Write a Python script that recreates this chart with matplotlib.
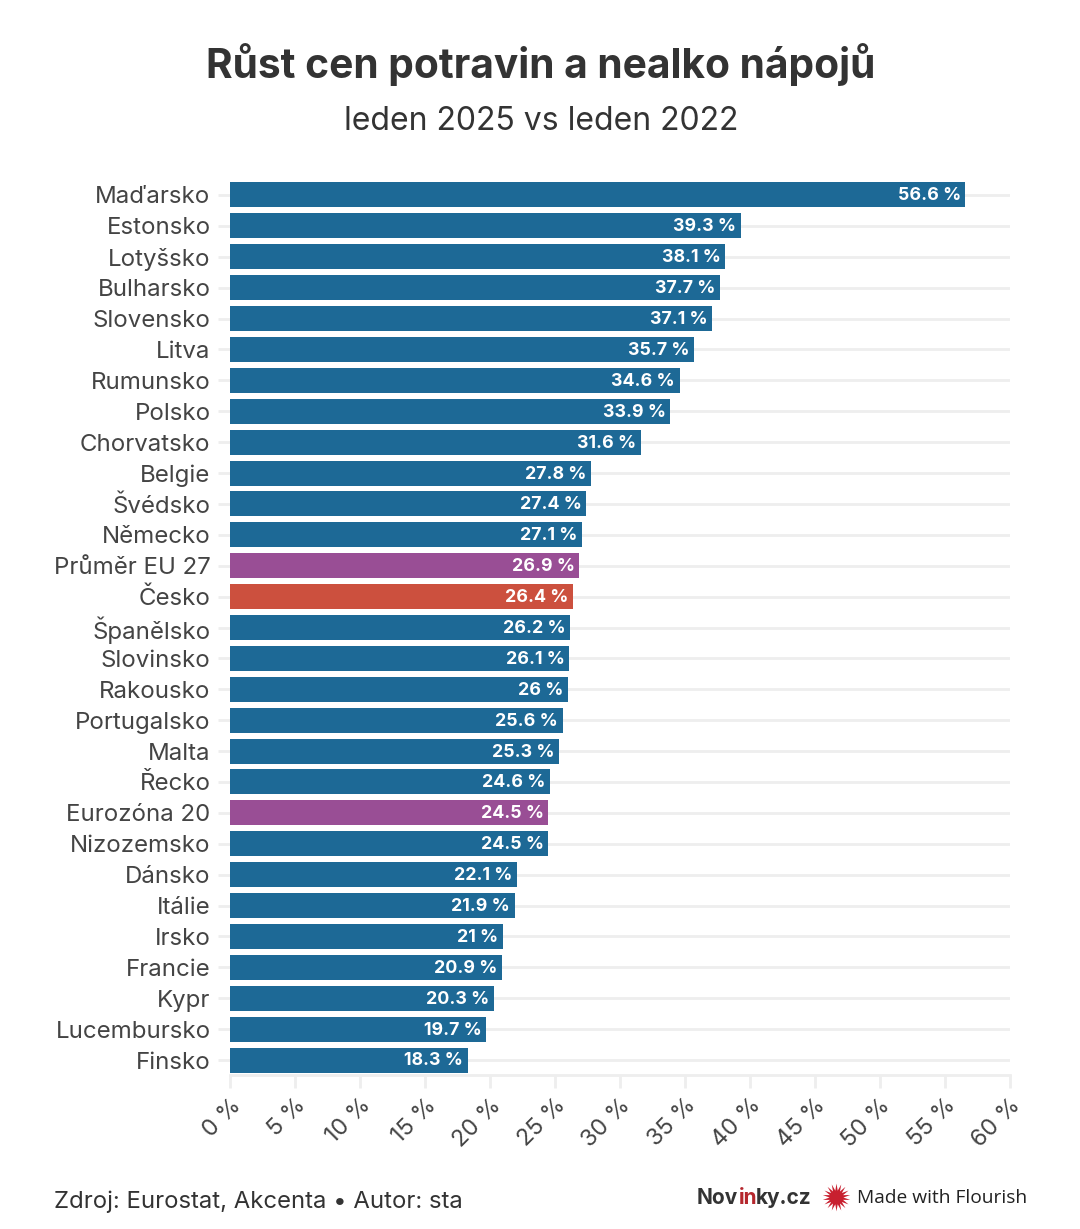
import matplotlib
matplotlib.use('Agg')
import matplotlib.pyplot as plt
from matplotlib.lines import Line2D

plt.rcParams['font.family'] = ['Inter', 'DejaVu Sans']

countries = ['Maďarsko', 'Estonsko', 'Lotyšsko', 'Bulharsko', 'Slovensko', 'Litva', 'Rumunsko',
             'Polsko', 'Chorvatsko', 'Belgie', 'Švédsko', 'Německo', 'Průměr EU 27', 'Česko',
             'Španělsko', 'Slovinsko', 'Rakousko', 'Portugalsko', 'Malta', 'Řecko', 'Eurozóna 20',
             'Nizozemsko', 'Dánsko', 'Itálie', 'Irsko', 'Francie', 'Kypr', 'Lucembursko', 'Finsko']
values = [56.6, 39.3, 38.1, 37.7, 37.1, 35.7, 34.6, 33.9, 31.6, 27.8, 27.4, 27.1, 26.9, 26.4,
          26.2, 26.1, 26, 25.6, 25.3, 24.6, 24.5, 24.5, 22.1, 21.9, 21, 20.9, 20.3, 19.7, 18.3]
x_ticks = list(range(0, 65, 5))

blue = '#1d6996'
purple = '#994e95'
red = '#cc503e'
colors = []
for c in countries:
    if c in ('Průměr EU 27', 'Eurozóna 20'):
        colors.append(purple)
    elif c == 'Česko':
        colors.append(red)
    else:
        colors.append(blue)

W, H = 1080, 1229
fig = plt.figure(figsize=(W / 100, H / 100), dpi=100, facecolor='white')

# plot area in pixels
left, right, top, bottom = 230, 1009.5, 180, 1075
ax = fig.add_axes([left / W, 1 - bottom / H, (right - left) / W, (bottom - top) / H])

row_h = 30.9
ax.barh(range(len(values)), values, height=25 / row_h, color=colors, zorder=3)
ax.set_xlim(0, 60)
ax.set_ylim(len(values) - 1 + (bottom - 1060) / row_h, -(195 - top) / row_h)

for i, v in enumerate(values):
    label = f'{v:g} %'
    ax.annotate(label, (v, i), xytext=(-3.2, -0.7), textcoords='offset points', ha='right', va='center',
                color='white', fontsize=12.8, fontweight='bold', zorder=4)

grid_col = '#eeeeee'
ax.grid(True, axis='y', color=grid_col, lw=2, zorder=1)
ax.set_axisbelow(True)
for name in ('top', 'right', 'left'):
    ax.spines[name].set_visible(False)
ax.spines['bottom'].set_color(grid_col)
ax.spines['bottom'].set_linewidth(2)

ax.set_yticks(range(len(values)))
ax.set_yticklabels(countries, fontsize=17.3, color='#444444')
ax.set_xticks(x_ticks)
ax.set_xticklabels([f'{t} %' for t in x_ticks], fontsize=16.8, color='#444444', rotation=45,
                   ha='right', va='top', rotation_mode='anchor')
ax.tick_params(axis='y', length=9, width=2, color=grid_col, pad=5)
ax.tick_params(axis='x', length=9, width=2, color=grid_col, pad=5)

fig.text(541 / W, 1 - 64 / H, 'Růst cen potravin a nealko nápojů', ha='center', va='center',
         fontsize=29.3, fontweight='bold', color='#333333')
fig.text(541 / W, 1 - 122 / H, 'leden 2025 vs leden 2022', ha='center', va='center',
         fontsize=23, color='#333333')
fig.text(54 / W, 1 - 1202 / H, 'Zdroj: Eurostat, Akcenta • Autor: sta', ha='left', va='center',
         fontsize=17.2, color='#333333')

# Novinky logo, the "in" is red
logo_y = 1 - 1198 / H
fig.text(697 / W, logo_y, 'Nov', ha='left', va='center', fontsize=15, fontweight='bold', color='#333333')
fig.text(739 / W, logo_y, 'in', ha='left', va='center', fontsize=15, fontweight='bold', color='#b5272d')
fig.text(756 / W, logo_y, 'ky.cz', ha='left', va='center', fontsize=15, fontweight='bold', color='#333333')

fig.add_artist(Line2D([836 / W], [1 - 1197 / H], transform=fig.transFigure, marker=(18, 1, 0),
                      markersize=20, color='#c8202f', markeredgewidth=0))
fig.text(857 / W, 1 - 1198 / H, 'Made with Flourish', ha='left', va='center', fontsize=13.8,
         family=['Open Sans', 'DejaVu Sans'], color='#222222')

fig.savefig('out.png', dpi=100, facecolor='white')
